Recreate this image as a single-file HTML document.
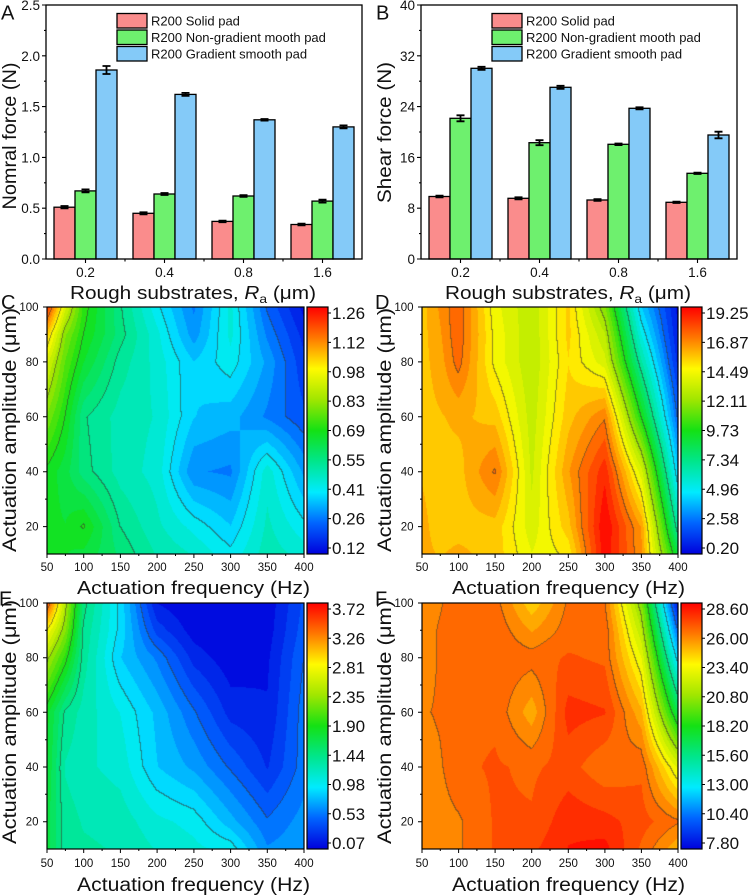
<!DOCTYPE html>
<html><head><meta charset="utf-8">
<style>
html,body{margin:0;padding:0;background:#fff;}
#wrap{position:relative;width:750px;height:896px;overflow:hidden;background:#fff;}
canvas{position:absolute;display:block;}
svg{position:absolute;left:0;top:0;}
text{font-family:"Liberation Sans",Arial,sans-serif;fill:#111;}
</style></head><body><div id="wrap">
<canvas id="cC" width="257" height="247" style="left:47px;top:307px;background:linear-gradient(90deg,#3c3 0%,#2ea 35%,#0ce 60%,#07f 100%);"></canvas>
<canvas id="cD" width="256" height="247" style="left:422px;top:307px;background:linear-gradient(90deg,#fb0 0%,#f90 20%,#ce0 45%,#f80 70%,#0bf 92%,#00e 100%);"></canvas>
<canvas id="cE" width="257" height="246" style="left:47px;top:603px;background:linear-gradient(90deg,#2d5 0%,#0ef 30%,#06f 55%,#00d 80%,#07f 100%);"></canvas>
<canvas id="cF" width="256" height="246" style="left:422px;top:603px;background:linear-gradient(90deg,#f80 0%,#f60 60%,#fc0 85%,#09f 100%);"></canvas>
<svg width="750" height="896" viewBox="0 0 750 896" xmlns="http://www.w3.org/2000/svg">
<defs>
<linearGradient id="jet" x1="0" y1="1" x2="0" y2="0">
<stop offset="0" stop-color="rgb(0,0,220)"/>
<stop offset="0.125" stop-color="rgb(0,100,255)"/>
<stop offset="0.25" stop-color="rgb(0,235,255)"/>
<stop offset="0.375" stop-color="rgb(0,230,140)"/>
<stop offset="0.5" stop-color="rgb(20,225,20)"/>
<stop offset="0.625" stop-color="rgb(160,230,0)"/>
<stop offset="0.75" stop-color="rgb(255,250,0)"/>
<stop offset="0.875" stop-color="rgb(255,120,0)"/>
<stop offset="1" stop-color="rgb(255,0,0)"/>
</linearGradient>
</defs>

<!-- ========== Panel A ========== -->
<g stroke="#000" stroke-width="1.3">
<rect x="54" y="207.2" width="21" height="51.8" fill="#FA8C8C"/>
<rect x="75" y="190.9" width="21" height="68.1" fill="#6EF06E"/>
<rect x="96" y="70" width="21" height="189" fill="#84CAF8"/>
<rect x="133" y="213.3" width="21" height="45.7" fill="#FA8C8C"/>
<rect x="154" y="194" width="21" height="65" fill="#6EF06E"/>
<rect x="175" y="94.4" width="21" height="164.6" fill="#84CAF8"/>
<rect x="212" y="221.4" width="21" height="37.6" fill="#FA8C8C"/>
<rect x="233" y="196" width="21" height="63" fill="#6EF06E"/>
<rect x="254" y="119.8" width="21" height="139.2" fill="#84CAF8"/>
<rect x="291" y="224.5" width="21" height="34.5" fill="#FA8C8C"/>
<rect x="312" y="201.1" width="21" height="57.9" fill="#6EF06E"/>
<rect x="333" y="126.9" width="21" height="132.1" fill="#84CAF8"/>
</g>
<path fill="none" stroke="#000" stroke-width="1.8" d="
M60.5 206H68.5M64.5 206V208.4M60.5 208.4H68.5
M139.5 212.3H147.5M143.5 212.3V214.3M139.5 214.3H147.5
M218.5 220.6H226.5M222.5 220.6V222.2M218.5 222.2H226.5
M297.5 223.7H305.5M301.5 223.7V225.3M297.5 225.3H305.5
M81.5 189.4H89.5M85.5 189.4V192.4M81.5 192.4H89.5
M160.5 193H168.5M164.5 193V195M160.5 195H168.5
M239.5 195.2H247.5M243.5 195.2V196.8M239.5 196.8H247.5
M318.5 199.6H326.5M322.5 199.6V202.6M318.5 202.6H326.5
M102.5 66H110.5M106.5 66V74M102.5 74H110.5
M181.5 92.9H189.5M185.5 92.9V95.9M181.5 95.9H189.5
M260.5 119H268.5M264.5 119V120.6M260.5 120.6H268.5
M339.5 125.4H347.5M343.5 125.4V128.4M339.5 128.4H347.5"/>
<rect x="46" y="5" width="316" height="254" fill="none" stroke="#000" stroke-width="1.3"/>
<path fill="none" stroke="#000" stroke-width="1.1" d="M42 5H46M42 55.8H46M42 106.6H46M42 157.4H46M42 208.2H46M42 259H46M44 30.4H46M44 81.2H46M44 132H46M44 182.8H46M44 233.6H46M85.5 259V263M164.5 259V263M243.5 259V263M322.5 259V263M125 259V261.5M204 259V261.5M283 259V261.5"/>
<g font-size="13.5" text-anchor="end">
<text x="40" y="10">2.5</text><text x="40" y="60.8">2.0</text><text x="40" y="111.6">1.5</text><text x="40" y="162.4">1.0</text><text x="40" y="213.2">0.5</text><text x="40" y="264">0.0</text>
</g>
<g font-size="13.5" text-anchor="middle">
<text x="85.5" y="277">0.2</text><text x="164.5" y="277">0.4</text><text x="243.5" y="277">0.8</text><text x="322.5" y="277">1.6</text>
</g>
<g stroke="#000" stroke-width="1.3">
<rect x="117" y="13.5" width="30" height="14.5" fill="#FA8C8C"/>
<rect x="117" y="30" width="30" height="14.5" fill="#6EF06E"/>
<rect x="117" y="46.5" width="30" height="14.5" fill="#84CAF8"/>
</g>
<g font-size="13">
<text x="151" y="25.5">R200 Solid pad</text>
<text x="151" y="42">R200 Non-gradient mooth pad</text>
<text x="151" y="58.5">R200 Gradient smooth pad</text>
</g>
<text x="193" y="299" text-anchor="middle" font-size="18" textLength="246" lengthAdjust="spacingAndGlyphs">Rough substrates, <tspan font-style="italic">R</tspan><tspan font-size="12" dy="4">a</tspan><tspan dy="-4"> (μm)</tspan></text>
<text transform="translate(16,136) rotate(-90)" text-anchor="middle" font-size="19" textLength="147" lengthAdjust="spacingAndGlyphs">Nomral force (N)</text>
<text x="1" y="19.5" font-size="20">A</text>

<!-- ========== Panel B ========== -->
<g stroke="#000" stroke-width="1.3">
<rect x="429" y="196.5" width="21" height="62.5" fill="#FA8C8C"/>
<rect x="450" y="118.3" width="21" height="140.7" fill="#6EF06E"/>
<rect x="471" y="68.3" width="21" height="190.7" fill="#84CAF8"/>
<rect x="508" y="198.3" width="21" height="60.7" fill="#FA8C8C"/>
<rect x="529" y="142.7" width="21" height="116.3" fill="#6EF06E"/>
<rect x="550" y="87.3" width="21" height="171.7" fill="#84CAF8"/>
<rect x="587" y="200" width="21" height="59" fill="#FA8C8C"/>
<rect x="608" y="144.3" width="21" height="114.7" fill="#6EF06E"/>
<rect x="629" y="108.3" width="21" height="150.7" fill="#84CAF8"/>
<rect x="666" y="202.3" width="21" height="56.7" fill="#FA8C8C"/>
<rect x="687" y="173.3" width="21" height="85.7" fill="#6EF06E"/>
<rect x="708" y="135" width="21" height="124" fill="#84CAF8"/>
</g>
<path fill="none" stroke="#000" stroke-width="1.8" d="
M435.5 195.7H443.5M439.5 195.7V197.3M435.5 197.3H443.5
M514.5 197.3H522.5M518.5 197.3V199.3M514.5 199.3H522.5
M593.5 199.2H601.5M597.5 199.2V200.8M593.5 200.8H601.5
M672.5 201.6H680.5M676.5 201.6V203M672.5 203H680.5
M456.5 115.3H464.5M460.5 115.3V121.3M456.5 121.3H464.5
M535.5 140.2H543.5M539.5 140.2V145.2M535.5 145.2H543.5
M614.5 143.5H622.5M618.5 143.5V145.1M614.5 145.1H622.5
M693.5 172.6H701.5M697.5 172.6V174M693.5 174H701.5
M477.5 66.8H485.5M481.5 66.8V69.8M477.5 69.8H485.5
M556.5 85.8H564.5M560.5 85.8V88.8M556.5 88.8H564.5
M635.5 107.3H643.5M639.5 107.3V109.3M635.5 109.3H643.5
M714.5 131.7H722.5M718.5 131.7V138.3M714.5 138.3H722.5"/>
<rect x="421" y="5" width="316" height="254" fill="none" stroke="#000" stroke-width="1.3"/>
<path fill="none" stroke="#000" stroke-width="1.1" d="M417 5H421M417 55.8H421M417 106.6H421M417 157.4H421M417 208.2H421M417 259H421M419 30.4H421M419 81.2H421M419 132H421M419 182.8H421M419 233.6H421M460.5 259V263M539.5 259V263M618.5 259V263M697.5 259V263M500 259V261.5M579 259V261.5M658 259V261.5"/>
<g font-size="13.5" text-anchor="end">
<text x="415" y="10">40</text><text x="415" y="60.8">32</text><text x="415" y="111.6">24</text><text x="415" y="162.4">16</text><text x="415" y="213.2">8</text><text x="415" y="264">0</text>
</g>
<g font-size="13.5" text-anchor="middle">
<text x="460.5" y="277">0.2</text><text x="539.5" y="277">0.4</text><text x="618.5" y="277">0.8</text><text x="697.5" y="277">1.6</text>
</g>
<g stroke="#000" stroke-width="1.3">
<rect x="492" y="13.5" width="30" height="14.5" fill="#FA8C8C"/>
<rect x="492" y="30" width="30" height="14.5" fill="#6EF06E"/>
<rect x="492" y="46.5" width="30" height="14.5" fill="#84CAF8"/>
</g>
<g font-size="13">
<text x="526" y="25.5">R200 Solid pad</text>
<text x="526" y="42">R200 Non-gradient mooth pad</text>
<text x="526" y="58.5">R200 Gradient smooth pad</text>
</g>
<text x="568" y="299" text-anchor="middle" font-size="18" textLength="246" lengthAdjust="spacingAndGlyphs">Rough substrates, <tspan font-style="italic">R</tspan><tspan font-size="12" dy="4">a</tspan><tspan dy="-4"> (μm)</tspan></text>
<text transform="translate(391,132.5) rotate(-90)" text-anchor="middle" font-size="19" textLength="141" lengthAdjust="spacingAndGlyphs">Shear force (N)</text>
<text x="376" y="19.5" font-size="20">B</text>

<!-- ========== Panel C ========== -->
<rect x="47" y="307" width="257" height="247" fill="none" stroke="#000" stroke-width="1.2"/>
<rect x="307" y="307" width="21" height="247" fill="url(#jet)" stroke="#000" stroke-width="1.2"/>
<path fill="none" stroke="#000" stroke-width="1" d="M43 307H47M43 361.9H47M43 416.8H47M43 471.7H47M43 526.6H47M45 334.4H47M45 389.3H47M45 444.2H47M45 499.1H47M47 554V558M83.7 554V558M120.4 554V558M157.1 554V558M193.9 554V558M230.6 554V558M267.3 554V558M304 554V558M65.4 554V556M102.1 554V556M138.8 554V556M175.5 554V556M212.2 554V556M249 554V556M285.7 554V556M328 313H331M328 342.4H331M328 371.8H331M328 401.1H331M328 430.5H331M328 459.9H331M328 489.3H331M328 518.6H331M328 548H331"/>
<g font-size="11.5" text-anchor="end">
<text x="38.5" y="311">100</text><text x="38.5" y="365.9">80</text><text x="38.5" y="420.8">60</text><text x="38.5" y="475.7">40</text><text x="38.5" y="530.6">20</text>
</g>
<g font-size="11.5" text-anchor="middle">
<text x="47" y="571">50</text><text x="83.7" y="571">100</text><text x="120.4" y="571">150</text><text x="157.1" y="571">200</text><text x="193.9" y="571">250</text><text x="230.6" y="571">300</text><text x="267.3" y="571">350</text><text x="304" y="571">400</text>
</g>
<g font-size="17">
<text x="332" y="319">1.26</text><text x="332" y="348.4">1.12</text><text x="332" y="377.8">0.98</text><text x="332" y="407.1">0.83</text><text x="332" y="436.5">0.69</text><text x="332" y="465.9">0.55</text><text x="332" y="495.3">0.41</text><text x="332" y="524.6">0.26</text><text x="332" y="554">0.12</text>
</g>
<text x="193.5" y="594" text-anchor="middle" font-size="18" textLength="233" lengthAdjust="spacingAndGlyphs">Actuation frequency (Hz)</text>
<text transform="translate(16,430) rotate(-90)" text-anchor="middle" font-size="19" textLength="244" lengthAdjust="spacingAndGlyphs">Actuation amplitude (μm)</text>
<text x="1" y="309" font-size="20">C</text>

<!-- ========== Panel D ========== -->
<rect x="422" y="307" width="256" height="247" fill="none" stroke="#000" stroke-width="1.2"/>
<rect x="681" y="307" width="21" height="247" fill="url(#jet)" stroke="#000" stroke-width="1.2"/>
<path fill="none" stroke="#000" stroke-width="1" d="M418 307H422M418 361.9H422M418 416.8H422M418 471.7H422M418 526.6H422M420 334.4H422M420 389.3H422M420 444.2H422M420 499.1H422M422 554V558M458.6 554V558M495.1 554V558M531.7 554V558M568.3 554V558M604.9 554V558M641.4 554V558M678 554V558M440.3 554V556M476.9 554V556M513.4 554V556M550 554V556M586.6 554V556M623.1 554V556M659.7 554V556M702 313H705M702 342.4H705M702 371.8H705M702 401.1H705M702 430.5H705M702 459.9H705M702 489.3H705M702 518.6H705M702 548H705"/>
<g font-size="11.5" text-anchor="end">
<text x="413.5" y="311">100</text><text x="413.5" y="365.9">80</text><text x="413.5" y="420.8">60</text><text x="413.5" y="475.7">40</text><text x="413.5" y="530.6">20</text>
</g>
<g font-size="11.5" text-anchor="middle">
<text x="422" y="571">50</text><text x="458.6" y="571">100</text><text x="495.1" y="571">150</text><text x="531.7" y="571">200</text><text x="568.3" y="571">250</text><text x="604.9" y="571">300</text><text x="641.4" y="571">350</text><text x="678" y="571">400</text>
</g>
<g font-size="17">
<text x="706" y="319">19.25</text><text x="706" y="348.4">16.87</text><text x="706" y="377.8">14.49</text><text x="706" y="407.1">12.11</text><text x="706" y="436.5">9.73</text><text x="706" y="465.9">7.34</text><text x="706" y="495.3">4.96</text><text x="706" y="524.6">2.58</text><text x="706" y="554">0.20</text>
</g>
<text x="568.5" y="594" text-anchor="middle" font-size="18" textLength="233" lengthAdjust="spacingAndGlyphs">Actuation frequency (Hz)</text>
<text transform="translate(391,430) rotate(-90)" text-anchor="middle" font-size="19" textLength="244" lengthAdjust="spacingAndGlyphs">Actuation amplitude (μm)</text>
<text x="375" y="309" font-size="20">D</text>

<!-- ========== Panel E ========== -->
<rect x="47" y="603" width="257" height="246" fill="none" stroke="#000" stroke-width="1.2"/>
<rect x="307" y="603" width="21" height="246" fill="url(#jet)" stroke="#000" stroke-width="1.2"/>
<path fill="none" stroke="#000" stroke-width="1" d="M43 603H47M43 657.7H47M43 712.3H47M43 767H47M43 821.7H47M45 630.3H47M45 685H47M45 739.7H47M45 794.3H47M47 849V853M83.7 849V853M120.4 849V853M157.1 849V853M193.9 849V853M230.6 849V853M267.3 849V853M304 849V853M65.4 849V851M102.1 849V851M138.8 849V851M175.5 849V851M212.2 849V851M249 849V851M285.7 849V851M328 609H331M328 638.3H331M328 667.5H331M328 696.8H331M328 726H331M328 755.3H331M328 784.5H331M328 813.8H331M328 843H331"/>
<g font-size="11.5" text-anchor="end">
<text x="38.5" y="607">100</text><text x="38.5" y="661.7">80</text><text x="38.5" y="716.3">60</text><text x="38.5" y="771">40</text><text x="38.5" y="825.7">20</text>
</g>
<g font-size="11.5" text-anchor="middle">
<text x="47" y="867">50</text><text x="83.7" y="867">100</text><text x="120.4" y="867">150</text><text x="157.1" y="867">200</text><text x="193.9" y="867">250</text><text x="230.6" y="867">300</text><text x="267.3" y="867">350</text><text x="304" y="867">400</text>
</g>
<g font-size="17">
<text x="332" y="615">3.72</text><text x="332" y="644.3">3.26</text><text x="332" y="673.5">2.81</text><text x="332" y="702.8">2.35</text><text x="332" y="732">1.90</text><text x="332" y="761.3">1.44</text><text x="332" y="790.5">0.98</text><text x="332" y="819.8">0.53</text><text x="332" y="849">0.07</text>
</g>
<text x="193.5" y="891" text-anchor="middle" font-size="19" textLength="233" lengthAdjust="spacingAndGlyphs">Actuation frequency (Hz)</text>
<text transform="translate(16,722) rotate(-90)" text-anchor="middle" font-size="19" textLength="244" lengthAdjust="spacingAndGlyphs">Actuation amplitude (μm)</text>
<text x="-1" y="605.5" font-size="20">E</text>

<!-- ========== Panel F ========== -->
<rect x="422" y="603" width="256" height="246" fill="none" stroke="#000" stroke-width="1.2"/>
<rect x="681" y="603" width="21" height="246" fill="url(#jet)" stroke="#000" stroke-width="1.2"/>
<path fill="none" stroke="#000" stroke-width="1" d="M418 603H422M418 657.7H422M418 712.3H422M418 767H422M418 821.7H422M420 630.3H422M420 685H422M420 739.7H422M420 794.3H422M422 849V853M458.6 849V853M495.1 849V853M531.7 849V853M568.3 849V853M604.9 849V853M641.4 849V853M678 849V853M440.3 849V851M476.9 849V851M513.4 849V851M550 849V851M586.6 849V851M623.1 849V851M659.7 849V851M702 609H705M702 638.3H705M702 667.5H705M702 696.8H705M702 726H705M702 755.3H705M702 784.5H705M702 813.8H705M702 843H705"/>
<g font-size="11.5" text-anchor="end">
<text x="413.5" y="607">100</text><text x="413.5" y="661.7">80</text><text x="413.5" y="716.3">60</text><text x="413.5" y="771">40</text><text x="413.5" y="825.7">20</text>
</g>
<g font-size="11.5" text-anchor="middle">
<text x="422" y="867">50</text><text x="458.6" y="867">100</text><text x="495.1" y="867">150</text><text x="531.7" y="867">200</text><text x="568.3" y="867">250</text><text x="604.9" y="867">300</text><text x="641.4" y="867">350</text><text x="678" y="867">400</text>
</g>
<g font-size="17">
<text x="706" y="615">28.60</text><text x="706" y="644.3">26.00</text><text x="706" y="673.5">23.40</text><text x="706" y="702.8">20.80</text><text x="706" y="732">18.20</text><text x="706" y="761.3">15.60</text><text x="706" y="790.5">13.00</text><text x="706" y="819.8">10.40</text><text x="706" y="849">7.80</text>
</g>
<text x="568.5" y="891" text-anchor="middle" font-size="19" textLength="233" lengthAdjust="spacingAndGlyphs">Actuation frequency (Hz)</text>
<text transform="translate(391,722) rotate(-90)" text-anchor="middle" font-size="19" textLength="244" lengthAdjust="spacingAndGlyphs">Actuation amplitude (μm)</text>
<text x="375" y="605.5" font-size="20">F</text>
</svg>
</div>
<script>
(function(){
var XS=[50,75,100,150,200,250,300,350,400], YS=[100,90,80,60,40,20,10];
var ST=[[0,0,0,220],[0.125,0,100,255],[0.25,0,235,255],[0.375,0,230,140],[0.5,20,225,20],[0.625,160,230,0],[0.75,255,250,0],[0.875,255,120,0],[1,255,0,0]];
function jet(t){
  if(t<=0) return [ST[0][1],ST[0][2],ST[0][3]];
  if(t>=1) return [255,0,0];
  for(var i=0;i<8;i++){var a=ST[i],b=ST[i+1];
    if(t<=b[0]){var u=(t-a[0])/(b[0]-a[0]);return [a[1]+(b[1]-a[1])*u,a[2]+(b[2]-a[2])*u,a[3]+(b[3]-a[3])*u];}}
  return [255,0,0];
}
function seg(arr,v,desc){
  for(var i=0;i<arr.length-1;i++){var a=arr[i],b=arr[i+1];
    if(desc?(v<=a&&v>=b):(v>=a&&v<=b)) return [i,(v-a)/(b-a)];}
  return [arr.length-2,1];
}
function draw(id,G){
  var cv=document.getElementById(id); if(!cv||!cv.getContext) return;
  var W=cv.width,H=cv.height,ctx=cv.getContext('2d'),img=ctx.createImageData(W,H),d=img.data;
  var T=new Float32Array(W*H),px,py,k;
  for(py=0;py<H;py++){
    var a=100-(py+0.5)/H*90, sy=seg(YS,a,true), j=sy[0], v=sy[1];
    for(px=0;px<W;px++){
      var f=50+(px+0.5)/W*350, sx=seg(XS,f,false), i=sx[0], u=sx[1];
      T[py*W+px]=(1-v)*((1-u)*G[j][i]+u*G[j][i+1])+v*((1-u)*G[j+1][i]+u*G[j+1][i+1]);
    }
  }
  var N=32;
  for(k=0;k<W*H;k++){
    var q=Math.floor(T[k]*N); if(q<0)q=0; if(q>N-1)q=N-1;
    var c=jet((q+0.5)/N);
    d[4*k]=c[0];d[4*k+1]=c[1];d[4*k+2]=c[2];d[4*k+3]=255;
  }
  for(py=0;py<H;py++)for(px=0;px<W;px++){
    k=py*W+px; var m=Math.floor(T[k]*8), e=false;
    if(px<W-1&&Math.floor(T[k+1]*8)!=m) e=true;
    if(py<H-1&&Math.floor(T[k+W]*8)!=m) e=true;
    if(e){d[4*k]=d[4*k]*0.45+30;d[4*k+1]=d[4*k+1]*0.45+30;d[4*k+2]=d[4*k+2]*0.45+30;}
  }
  ctx.putImageData(img,0,0);
}
draw('cC',[
[0.95,0.70,0.52,0.38,0.26,0.15,0.29,0.12,0.02],
[0.80,0.60,0.50,0.39,0.29,0.17,0.29,0.15,0.05],
[0.70,0.56,0.47,0.36,0.30,0.22,0.27,0.18,0.07],
[0.59,0.50,0.38,0.33,0.31,0.22,0.20,0.15,0.10],
[0.49,0.45,0.39,0.33,0.30,0.16,0.15,0.30,0.18],
[0.48,0.47,0.505,0.375,0.32,0.27,0.22,0.32,0.26],
[0.48,0.47,0.46,0.40,0.34,0.31,0.26,0.33,0.30]]);
draw('cD',[
[0.80,0.85,0.90,0.73,0.66,0.79,0.60,0.22,0.02],
[0.80,0.84,0.90,0.74,0.66,0.79,0.66,0.28,0.03],
[0.80,0.83,0.89,0.74,0.66,0.78,0.70,0.35,0.05],
[0.80,0.81,0.82,0.80,0.67,0.80,0.87,0.50,0.12],
[0.81,0.80,0.80,0.88,0.68,0.84,0.96,0.70,0.22],
[0.82,0.80,0.80,0.80,0.70,0.80,1.00,0.84,0.35],
[0.82,0.81,0.82,0.80,0.72,0.76,0.99,0.85,0.45]]);
draw('cE',[
[0.93,0.65,0.39,0.24,0.03,0.00,0.00,0.01,0.10],
[0.75,0.60,0.37,0.24,0.08,0.015,0.00,0.015,0.11],
[0.64,0.52,0.36,0.22,0.15,0.05,0.01,0.025,0.125],
[0.48,0.37,0.33,0.28,0.21,0.13,0.05,0.035,0.14],
[0.47,0.34,0.32,0.30,0.22,0.18,0.12,0.06,0.14],
[0.45,0.36,0.34,0.33,0.29,0.27,0.20,0.13,0.17],
[0.45,0.36,0.35,0.34,0.31,0.29,0.27,0.16,0.18]]);
draw('cF',[
[0.85,0.87,0.90,0.89,0.79,0.88,0.88,0.60,0.02],
[0.85,0.88,0.90,0.90,0.84,0.89,0.90,0.66,0.125],
[0.85,0.88,0.90,0.90,0.89,0.91,0.90,0.72,0.23],
[0.87,0.88,0.90,0.90,0.825,0.95,0.94,0.82,0.44],
[0.85,0.87,0.90,0.91,0.90,0.92,0.88,0.90,0.71],
[0.86,0.86,0.87,0.91,0.91,0.96,0.95,0.92,0.88],
[0.86,0.86,0.87,0.91,0.93,0.97,0.98,0.90,0.82]]);
})();
</script>
</body></html>
